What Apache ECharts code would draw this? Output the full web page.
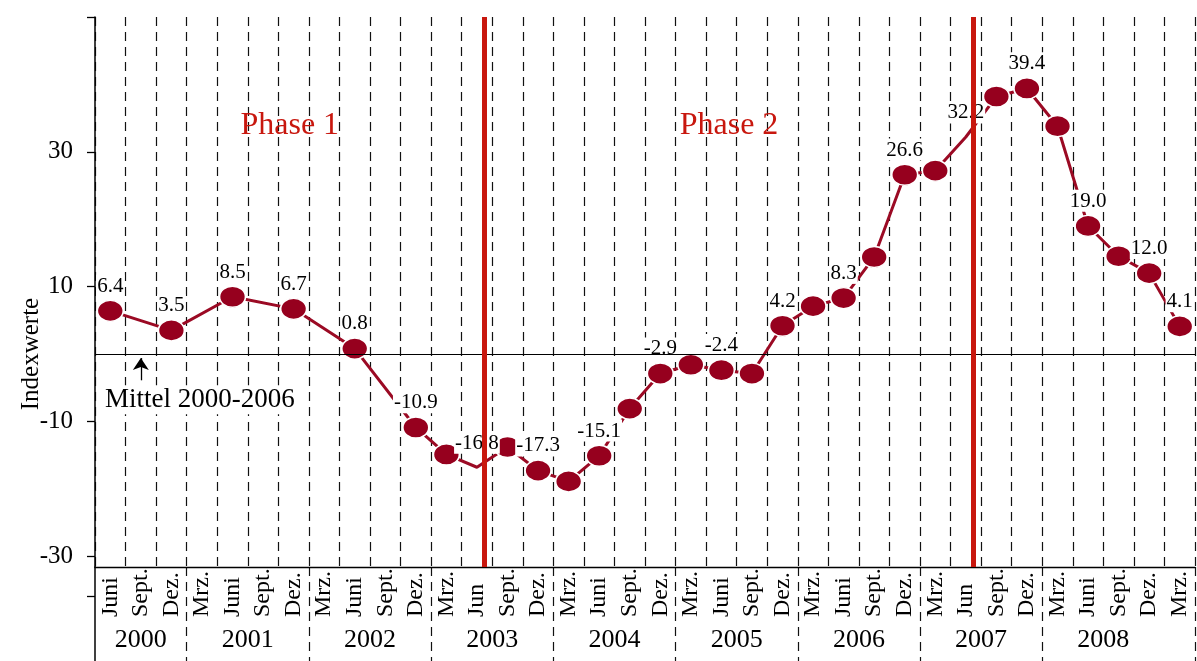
<!DOCTYPE html>
<html><head><meta charset="utf-8">
<script src="https://cdn.jsdelivr.net/npm/echarts@6/dist/echarts.min.js"></script>
<style>html,body{margin:0;padding:0;background:#fff}#c{width:1197px;height:661px}</style>
</head><body><div id="c"></div>
<script>
// ---------- data ----------
const months = ['Juni','Sept.','Dez.',
  'Mrz.','Juni','Sept.','Dez.',
  'Mrz.','Juni','Sept.','Dez.',
  'Mrz.','Jun','Sept.','Dez.',
  'Mrz.','Juni','Sept.','Dez.',
  'Mrz.','Juni','Sept.','Dez.',
  'Mrz.','Juni','Sept.','Dez.',
  'Mrz.','Jun','Sept.','Dez.',
  'Mrz.','Juni','Sept.','Dez.',
  'Mrz.'];
const monthYears = [2000,2000,2000,
  2001,2001,2001,2001,
  2002,2002,2002,2002,
  2003,2003,2003,2003,
  2004,2004,2004,2004,
  2005,2005,2005,2005,
  2006,2006,2006,2006,
  2007,2007,2007,2007,
  2008,2008,2008,2008,
  2009];
const yearLabels = ['2000','2001','2002','2003','2004','2005','2006','2007','2008'];
const values = [6.4, null, 3.5, null, 8.5, null, 6.7, null, 0.8, null,
  -10.9, -14.9, -16.8, -13.8, -17.3, -18.9, -15.1, -8.1, -2.9, -1.6,
  -2.4, -2.9, 4.2, 7.1, 8.3, 14.4, 26.6, 27.2, 32.2, 38.2,
  39.4, 33.8, 19.0, 14.5, 12.0, 4.1];
const labelledIdx = [0,2,4,6,8,10,12,14,16,18,20,22,24,26,28,30,32,34,35];
const unmarkedIdx = [12, 28];
const yTicks = [50, 30, 10, -10, -30];
const yTickLabels = [30, 10, -10, -30];
const yAxisTitle = 'Indexwerte';
const meanValue = 0;
const meanLabel = 'Mittel 2000-2006';
const phaseBounds = [0, 12.75, 28.75];   // phase starts, in category units
const phaseNames = ['Phase 1', 'Phase 2'];

// ---------- derived ----------
const FONT = 'Liberation Serif';
const RED = '#c8170e';
const DARK = '#96001e';
const yMin = -31.6, yMax = 50;
const gridTop = 17, gridBottomPx = 94, H = 661;
const plotH = H - gridTop - gridBottomPx;
const pxPerUnit = plotH / (yMax - yMin);
const lowerMin = yMin - gridBottomPx / pxPerUnit;
const nameShift = ((yMax + yMin) / 2 - meanValue) * pxPerUnit;

const yearCenters = yearLabels.map(y => {
  const idx = monthYears.map((m, i) => String(m) === y ? i : -1).filter(i => i >= 0);
  return (idx[0] + idx[idx.length - 1] + 1) / 2;
});
const isYearStart = i => i > 0 && monthYears[i] !== monthYears[i - 1] && yearLabels.includes(String(monthYears[i]));

const seriesData = values.map((v, i) => {
  const item = { value: v === null ? '-' : v, label: { show: labelledIdx.includes(i) } };
  if (unmarkedIdx.includes(i)) item.itemStyle = { color: 'rgba(0,0,0,0)', borderWidth: 0 };
  return item;
});

const dashStyle = { type: [9, 6], color: '#111', width: 1.2 };

const option = {
  animation: false,
  backgroundColor: '#fff',
  grid: [
    { left: 95, right: 2, top: gridTop, bottom: gridBottomPx, outerBoundsMode: 'none', containLabel: false },
    { left: 95, right: 2, top: H - gridBottomPx, bottom: 0, outerBoundsMode: 'none', containLabel: false }
  ],
  xAxis: [
    { type: 'category', gridIndex: 0, data: months, boundaryGap: true,
      axisLine: { show: true, onZero: false, lineStyle: { color: '#000', width: 1.3 } },
      axisTick: { show: false },
      axisLabel: { interval: 0, rotate: 90, align: 'left', verticalAlign: 'middle', margin: 50,
        fontSize: 24, fontFamily: FONT, color: '#000' },
      splitLine: { show: true, interval: 0, lineStyle: dashStyle } },
    { type: 'value', gridIndex: 0, min: 0, max: months.length, show: false },
    { type: 'category', gridIndex: 1, data: months, boundaryGap: true,
      axisLine: { show: false }, axisTick: { show: false }, axisLabel: { show: false },
      splitLine: { show: true, interval: (i) => isYearStart(i), lineStyle: dashStyle } },
    { type: 'value', gridIndex: 1, min: 0, max: months.length, position: 'top',
      axisLine: { show: false }, axisTick: { show: false }, splitLine: { show: false },
      axisLabel: { inside: true, margin: 60, customValues: yearCenters,
        formatter: v => { const k = yearCenters.findIndex(c => Math.abs(c - v) < 1e-6); return k >= 0 ? yearLabels[k] : ''; },
        fontSize: 26, fontFamily: FONT, color: '#000' } }
  ],
  yAxis: [
    { type: 'value', gridIndex: 0, min: yMin, max: yMax,
      axisLine: { show: true, lineStyle: { color: '#000', width: 1.5 } },
      axisTick: { show: true, length: 8, customValues: yTicks, lineStyle: { color: '#000', width: 1.3 } },
      axisLabel: { customValues: yTickLabels, fontSize: 25, fontFamily: FONT, color: '#000', margin: 22,
        padding: [8, 0, 0, 0] },
      splitLine: { show: false },
      name: yAxisTitle, nameLocation: 'middle', nameGap: 51, nameMoveOverlap: false,
      nameTextStyle: { fontSize: 25, fontFamily: FONT, color: '#000', padding: [0, 2 * nameShift, 0, 0] } },
    { type: 'value', gridIndex: 1, min: lowerMin, max: yMin,
      axisLine: { show: true, lineStyle: { color: '#000', width: 1.5 } },
      axisTick: { show: true, length: 8, customValues: [-36], lineStyle: { color: '#000', width: 1.3 } },
      axisLabel: { show: false }, splitLine: { show: false } }
  ],
  series: [
    { type: 'line', name: 'annot', xAxisIndex: 1, yAxisIndex: 0, data: [], z: 1, silent: true,
      markLine: { symbol: 'none', silent: true, animation: false, label: { show: false },
        data: [
          { yAxis: meanValue, lineStyle: { color: '#000', width: 1.2, type: 'solid' } },
          ...phaseBounds.slice(1).map(x => ({ xAxis: x, lineStyle: { color: RED, width: 5, type: 'solid' } }))
        ] },
      markPoint: { symbol: 'circle', symbolSize: 0, silent: true, animation: false,
        label: { show: true, position: 'inside', formatter: '{b}', color: RED, fontSize: 32, fontFamily: FONT },
        data: phaseNames.map((n, k) => ({ name: n, coord: [(phaseBounds[k] + phaseBounds[k + 1]) / 2, 33.9] })) } },
    { type: 'line', name: 'mean', xAxisIndex: 1, yAxisIndex: 0, data: [], z: 2, silent: true,
      markLine: { symbol: ['none', 'arrow'], symbolSize: 12, silent: true, animation: false, label: { show: false },
        lineStyle: { color: '#000', width: 1.3, type: 'solid' },
        data: [[{ coord: [1.5, -3.9] }, { coord: [1.5, -0.6] }]] },
      markPoint: { symbol: 'circle', symbolSize: 0, silent: true, animation: false,
        label: { show: true, position: 'inside', formatter: '{b}', color: '#000', fontSize: 27, fontFamily: FONT,
          backgroundColor: '#fff', padding: [1, 2] },
        data: [{ name: meanLabel, coord: [3.43, -6.8] }] } },
    { type: 'line', name: 'Index', xAxisIndex: 0, yAxisIndex: 0, z: 3, silent: true,
      data: seriesData, connectNulls: true,
      symbol: 'circle', symbolSize: [26, 21], showAllSymbol: true,
      lineStyle: { color: '#9b0a24', width: 3 },
      itemStyle: { color: DARK, borderColor: '#fff', borderWidth: 1.5 },
      label: { show: false, position: 'top', distance: 3,
        formatter: p => Number(p.value).toFixed(1),
        fontSize: 21, fontFamily: FONT, color: '#000', backgroundColor: '#fff', padding: [1, 1, 0, 1] },
      emphasis: { disabled: true } }
  ]
};
const chart = echarts.init(document.getElementById('c'), null, { renderer: 'canvas' });
chart.setOption(option);
</script></body></html>
